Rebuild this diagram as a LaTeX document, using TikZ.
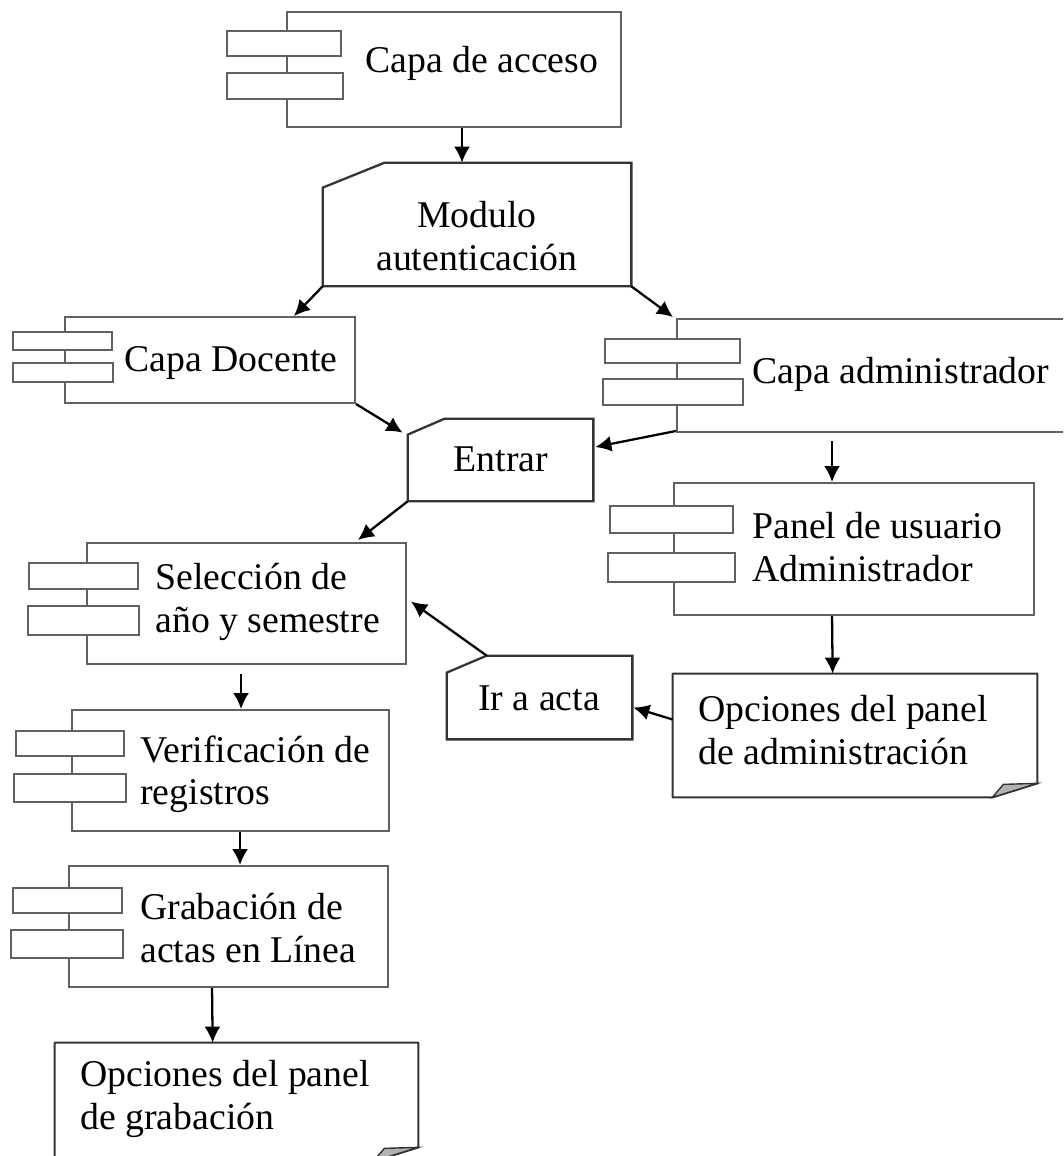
\documentclass[tikz,border=0pt]{standalone}
\usepackage{fontspec}
\setmainfont{Liberation Serif}
\usetikzlibrary{positioning, fit, calc, arrows.meta}
\colorlet{line_gray}{black!62}
\colorlet{dark_gray}{black!80}
\colorlet{fold_gray}{black!30}

\begin{document}
\begin{tikzpicture}[
                        x=0.02cm, y=-0.02cm,
                        body/.style={draw=line_gray, fill=white, line width=1.1pt, inner sep=0pt},
                        tab/.style={draw=line_gray, fill=white, line width=1.1pt},
                        area/.style={inner sep=0pt},
                        cutbox/.style={draw=dark_gray, fill=white, line width=1.3pt},
                        notebox/.style={draw=dark_gray, fill=white, line width=1.2pt, line join=round},
                        foldtri/.style={draw=dark_gray, fill=fold_gray, line width=0.8pt},
                        txt/.style={inner sep=0pt, align=left, font=\fontsize{21.5}{24}\selectfont},
                        >={Latex[length=0.32cm, width=0.32cm]},
                    ]
                        \useasboundingbox (0,0) rectangle (1063,1156);
                        \clip (0,0) rectangle (1063,1156);

                        % component bodies
                        \node[body, fit={(287,12) (621,127)}] (acceso) {};
                        \node[body, fit={(65,317) (355,403)}] (docente) {};
                        \node[body, fit={(677,319) (1068,432)}] (admin) {};
                        \node[body, fit={(674,483) (1034,615)}] (panel) {};
                        \node[body, fit={(87,543) (406,664)}] (seleccion) {};
                        \node[body, fit={(72,710) (389,831)}] (verif) {};
                        \node[body, fit={(69,866) (388,987)}] (grab) {};

                        % component tabs
                        \foreach \xa/\ya/\xb/\yb in {227/31/341/56, 227/73/343/99,
                                13/332/112/350, 13/363/113/382, 605/339/740/363, 603/379/743/405,
                                610/506/733/533, 608/553/735/582, 29/563/138/589, 28/606/139/635,
                                16/731/124/756, 14/774/126/802, 13/888/122/913, 11/930/123/958} {
                            \draw[tab] (\xa,\ya) rectangle (\xb,\yb);
                        }

                        % cut corner boxes
                        \node[area, fit={(323,163) (631,286)}] (modulo) {};
                        \draw[cutbox] ($(modulo.north west)+(0,25)$) -- ($(modulo.north west)+(62,0)$) -- (modulo.north east) -- (modulo.south east) -- (modulo.south west) -- cycle;
                        \node[area, fit={(408,419) (593,501)}] (entrar) {};
                        \draw[cutbox] ($(entrar.north west)+(0,16)$) -- ($(entrar.north west)+(37,0)$) -- (entrar.north east) -- (entrar.south east) -- (entrar.south west) -- cycle;
                        \node[area, fit={(447,656) (632,739)}] (ir) {};
                        \draw[cutbox] ($(ir.north west)+(0,17)$) -- ($(ir.north west)+(40,0)$) -- (ir.north east) -- (ir.south east) -- (ir.south west) -- cycle;

                        % notes
                        \node[area, fit={(673,674) (1037,797)}] (nota1) {};
                        \draw[notebox] (nota1.north west) -- (nota1.north east) -- ($(nota1.south east)+(0,-14)$) -- ($(nota1.south east)+(-45,0)$) -- (nota1.south west) -- cycle;
                        \draw[foldtri] ($(nota1.south east)+(-45,0)$) -- ($(nota1.south east)+(-34,-13)$) -- ($(nota1.south east)+(0,-14)$) -- cycle;
                        \node[area, fit={(55,1043) (418,1161)}] (nota2) {};
                        \draw[notebox] (nota2.north west) -- (nota2.north east) -- ($(nota2.south east)+(0,-14)$) -- ($(nota2.south east)+(-45,0)$) -- (nota2.south west) -- cycle;
                        \draw[foldtri] ($(nota2.south east)+(-45,0)$) -- ($(nota2.south east)+(-34,-13)$) -- ($(nota2.south east)+(0,-14)$) -- cycle;

                        % labels
                        \node[txt, anchor=west] (acceso_txt) at (365,63) {Capa de acceso};
                        \node[txt, align=center] (modulo_txt) at (477,236) {Modulo\\autenticación};
                        \node[txt, anchor=west] (docente_txt) at (124,363) {Capa Docente};
                        \node[txt, anchor=west] (admin_txt) at (752,374) {Capa administrador};
                        \node[txt] (entrar_txt) at (501,459) {Entrar};
                        \node[txt, anchor=west] (panel_txt) at (752,547) {Panel de usuario\\Administrador};
                        \node[txt, anchor=west] (seleccion_txt) at (155,602) {Selección de\\año y semestre};
                        \node[txt] (ir_txt) at (539,698) {Ir a acta};
                        \node[txt, anchor=west] (nota1_txt) at (698,730) {Opciones del panel\\de administración};
                        \node[txt, anchor=west] (verif_txt) at (140,774) {Verificación de\\registros};
                        \node[txt, anchor=west] (grab_txt) at (140,928) {Grabación de\\actas en Línea};
                        \node[txt, anchor=west] (nota2_txt) at (80,1099) {Opciones del panel\\de grabación};

                        % connections
                        \begin{scope}[line width=1.3pt]
                            \draw[->] ($(acceso.south)+(8,0)$) -- ($(modulo.north)+(-15,0)$);
                            \draw[->] (modulo.south west) -- ($(docente.north east)+(-62,0)$);
                            \draw[->] (modulo.south east) -- ($(admin.north west)+(-3,-1)$);
                            \draw[->] (docente.south east) -- ($(entrar.north west)+(-5,14)$);
                            \draw[->] ($(admin.south west)+(0,-2)$) -- ($(entrar.east)+(2,-13)$);
                            \draw[->, shorten <=0.16cm] ($(admin.south west)+(156,0)$) -- ($(panel.north west)+(159,0)$);
                            \draw[->] (entrar.south west) -- ($(seleccion.north east)+(-49,-2)$);
                            \draw[->] ($(panel.south west)+(159,0)$) -- ($(nota1.north west)+(160,0)$);
                            \draw[->] ($(nota1.west)+(0,-16)$) -- ($(ir.east)+(1,10)$);
                            \draw[->] ($(ir.north west)+(40,0)$) -- ($(seleccion.east)+(4,-2)$);
                            \draw[->, shorten <=0.18cm] ($(seleccion.south west)+(155,0)$) -- ($(verif.north west)+(170,0)$);
                            \draw[->] ($(verif.south west)+(169,0)$) -- ($(grab.north west)+(172,0)$);
                            \draw[->] ($(grab.south west)+(144,0)$) -- ($(nota2.north west)+(158,0)$);
                        \end{scope}
                    \end{tikzpicture}
\end{document}
